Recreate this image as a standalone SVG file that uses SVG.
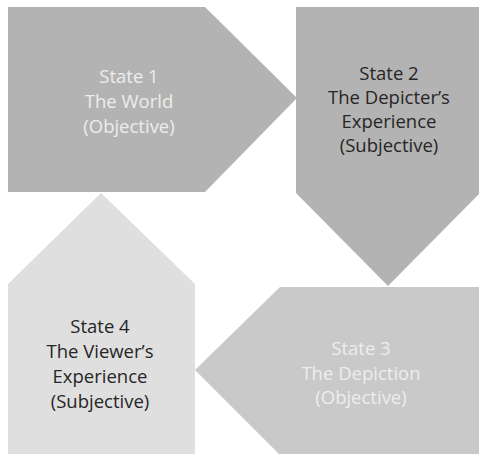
<svg xmlns="http://www.w3.org/2000/svg" width="479" height="454" viewBox="0 0 479 454">
  <style>
    .lbl { font-family: "Open Sans", "Liberation Sans", sans-serif; font-size: 18.5px; text-anchor: middle; }
    .light { fill: #ededed; }
    .dark { fill: #262626; }
  </style>
  <rect width="479" height="454" fill="#ffffff"/>
  <g id="connectors"></g>
  <g id="state1">
    <polygon points="8,7 205,7 297,98 205,192 8,192" fill="#b3b3b3"/>
    <text class="lbl light" x="129" y="83">State 1</text>
    <text class="lbl light" x="129" y="108">The World</text>
    <text class="lbl light" x="129" y="133">(Objective)</text>
  </g>
  <g id="state2">
    <polygon points="296,7 480,7 480,193 388,286 296,193" fill="#b3b3b3"/>
    <text class="lbl dark" x="389" y="80">State 2</text>
    <text class="lbl dark" x="389" y="104">The Depicter’s</text>
    <text class="lbl dark" x="389" y="128">Experience</text>
    <text class="lbl dark" x="389" y="152">(Subjective)</text>
  </g>
  <g id="state3">
    <polygon points="280,287 480,287 480,455 280,455 195,370" fill="#c9c9c9"/>
    <text class="lbl light" x="361" y="355">State 3</text>
    <text class="lbl light" x="361" y="380">The Depiction</text>
    <text class="lbl light" x="361" y="404">(Objective)</text>
  </g>
  <g id="state4">
    <polygon points="8,284 101,193 195,284 195,455 8,455" fill="#dfdfdf"/>
    <text class="lbl dark" x="100" y="333">State 4</text>
    <text class="lbl dark" x="100" y="358">The Viewer’s</text>
    <text class="lbl dark" x="100" y="383">Experience</text>
    <text class="lbl dark" x="100" y="408">(Subjective)</text>
  </g>
</svg>
